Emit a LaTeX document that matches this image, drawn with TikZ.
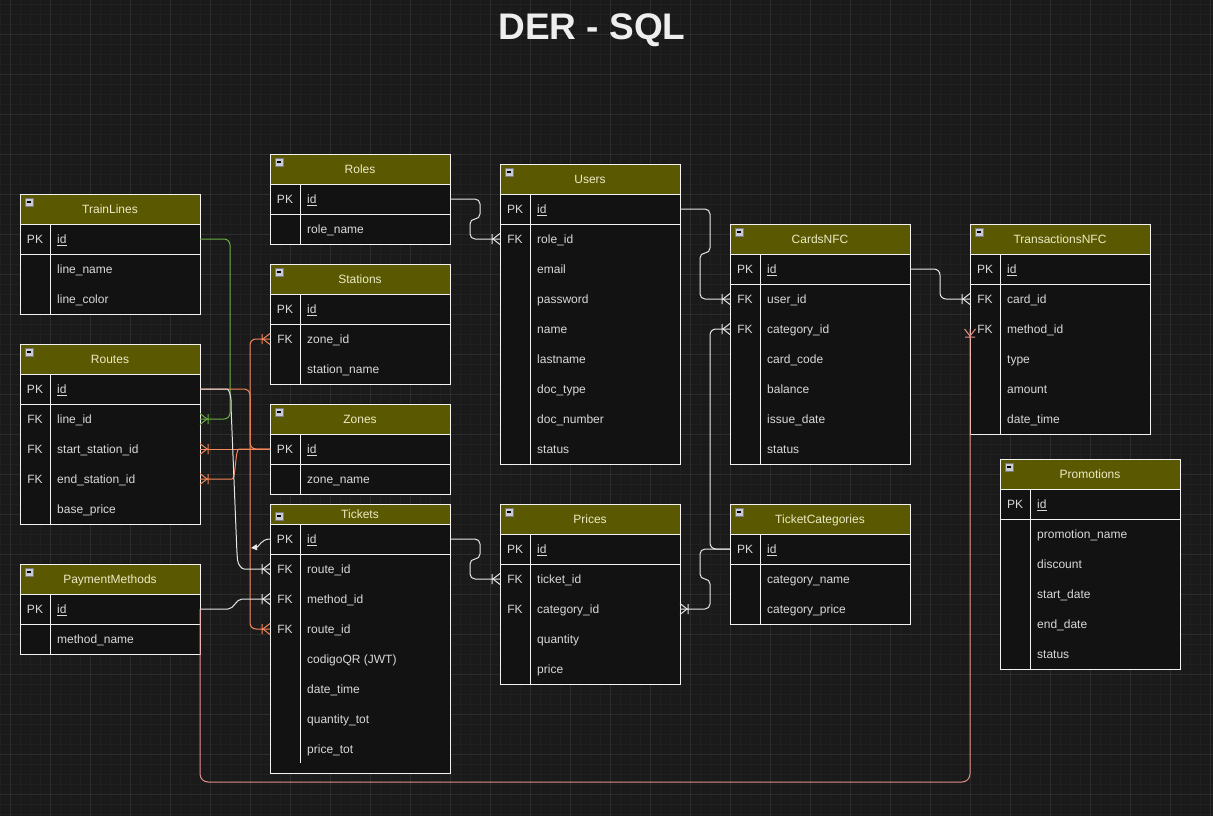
\documentclass[tikz,border=0pt]{standalone}
\usepackage{fontspec}
\setmainfont{Liberation Sans}
\usetikzlibrary{arrows.meta}
\definecolor{bgc}{HTML}{1A1A1A}
\definecolor{gridminor}{HTML}{202020}
\definecolor{gridmajor}{HTML}{2C2C2C}
\definecolor{tblbg}{HTML}{121212}
\definecolor{tblline}{HTML}{F2F2F2}
\definecolor{hdrcol}{HTML}{5A5800}
\definecolor{hdrtxt}{HTML}{EDEBC6}
\definecolor{rowtxt}{HTML}{D9D9D9}
\definecolor{titletxt}{HTML}{EEEEEE}
\definecolor{relwhite}{HTML}{E6E6E6}
\definecolor{relgreen}{HTML}{6AAE45}
\definecolor{relorange}{HTML}{F5875A}
\definecolor{relpink}{HTML}{E59089}
\definecolor{iconfill}{HTML}{C9CCD6}
\definecolor{iconline}{HTML}{7A7A8A}

\tikzset{
  tblnode/.style={fill=tblbg, draw=none, minimum width=180pt, inner sep=0pt, outer sep=0pt},
  tblborder/.style={draw=tblline, line width=1pt},
  hdrtext/.style={text=hdrtxt, font=\fontsize{12}{14}\selectfont, inner sep=0pt, anchor=base},
  keytext/.style={text=rowtxt, font=\fontsize{12}{14}\selectfont, inner sep=0pt, anchor=base},
  fieldtext/.style={text=rowtxt, font=\fontsize{12}{14}\selectfont, inner sep=0pt, anchor=base west},
  rowbox/.style={minimum width=180pt, minimum height=30pt, inner sep=0pt, outer sep=0pt},
  titletext/.style={text=titletxt, font=\fontsize{37}{44}\selectfont\bfseries, inner sep=0pt, anchor=base},
  rel/.style={line width=1pt, rounded corners=6pt},
  relw/.style={rel, draw=relwhite},
  relg/.style={rel, draw=relgreen},
  relo/.style={rel, draw=relorange},
  relp/.style={rel, draw=relpink, rounded corners=8pt},
  minorgrid/.style={draw=gridminor, line width=0.6pt},
  majorgrid/.style={draw=gridmajor, line width=0.8pt},
}

% #1 name, #2 x, #3 top, #4 bottom, #5 header height, #6 icon top offset, #7 title
\newcommand\ertable[7]{%
  \node[tblnode, minimum height={#4-#3}] (#1) at ({#2+90},{(#3+#4)/2}) {};
  \fill[hdrcol] ({#2},{#3}) rectangle ({#2+180},{#3+#5});
  \node[hdrtext] (#1-title) at ({#2+90},{#3+#5/2+4.3}) {#7};
  \draw[tblborder] ({#2},{#3+#5}) -- ({#2+180},{#3+#5});
  \draw[tblborder] (#1.north west) rectangle (#1.south east);
  \filldraw[fill=iconfill, draw=iconline, line width=0.7pt] ({#2+5},{#3+#6}) rectangle ({#2+13},{#3+#6+8});
  \draw[black, line width=1.1pt] ({#2+6.8},{#3+#6+4}) -- ({#2+11.2},{#3+#6+4});
}
% #1 x, #2 rows top, #3 pk separator y, #4 divider bottom
\newcommand\ercols[4]{%
  \draw[tblborder] ({#1},{#3}) -- ({#1+180},{#3});
  \draw[tblborder] ({#1+30},{#2}) -- ({#1+30},{#4});
}
% #1 name, #2 x, #3 y centre, #4 key, #5 field
\newcommand\errow[5]{%
  \node[rowbox] (#1) at ({#2+90},{#3}) {};
  \node[keytext] (#1-k) at ({#2+15},{#3+4.2}) {#4};
  \node[fieldtext] (#1-f) at ({#2+37},{#3+4.2}) {#5};
}
% #1 end point, #2 rotation, #3 colour
\newcommand\crowfoot[3]{%
  \begin{scope}[shift={#1}, rotate=#2]
    \draw[draw=#3, line width=1pt] (-8,-5) -- (-8,5) (0,-5.5) -- (-7,0) -- (0,5.5);
  \end{scope}}

\begin{document}
\begin{tikzpicture}[x=1pt,y=-1pt]
\useasboundingbox (0,0) rectangle (1213,816);
\fill[bgc] (0,0) rectangle (1213,816);
\foreach \gx in {0,10,...,1210} \draw[minorgrid] (\gx,0) -- (\gx,816);
\foreach \gy in {4,14,...,814} \draw[minorgrid] (0,\gy) -- (1213,\gy);
\foreach \gx in {10,50,...,1210} \draw[majorgrid] (\gx,0) -- (\gx,816);
\foreach \gy in {34,74,...,794} \draw[majorgrid] (0,\gy) -- (1213,\gy);

\node[titletext] (title) at (592,40) {DER - SQL};

% TrainLines
\ertable{TrainLines}{20}{194}{314}{30}{4}{TrainLines}
\ercols{20}{224}{254}{314}
\errow{TrainLines-id}{20}{239}{PK}{\underline{id}}
\errow{TrainLines-linename}{20}{269}{}{line\_name}
\errow{TrainLines-linecolor}{20}{299}{}{line\_color}

% Routes
\ertable{Routes}{20}{344}{524}{30}{4}{Routes}
\ercols{20}{374}{404}{524}
\errow{Routes-id}{20}{389}{PK}{\underline{id}}
\errow{Routes-lineid}{20}{419}{FK}{line\_id}
\errow{Routes-startstationid}{20}{449}{FK}{start\_station\_id}
\errow{Routes-endstationid}{20}{479}{FK}{end\_station\_id}
\errow{Routes-baseprice}{20}{509}{}{base\_price}

% PaymentMethods
\ertable{PaymentMethods}{20}{564}{654}{30}{4}{PaymentMethods}
\ercols{20}{594}{624}{654}
\errow{PaymentMethods-id}{20}{609}{PK}{\underline{id}}
\errow{PaymentMethods-methodname}{20}{639}{}{method\_name}

% Roles
\ertable{Roles}{270}{154}{244}{30}{4}{Roles}
\ercols{270}{184}{214}{244}
\errow{Roles-id}{270}{199}{PK}{\underline{id}}
\errow{Roles-rolename}{270}{229}{}{role\_name}

% Stations
\ertable{Stations}{270}{264}{384}{30}{4}{Stations}
\ercols{270}{294}{324}{384}
\errow{Stations-id}{270}{309}{PK}{\underline{id}}
\errow{Stations-zoneid}{270}{339}{FK}{zone\_id}
\errow{Stations-stationname}{270}{369}{}{station\_name}

% Zones
\ertable{Zones}{270}{404}{494}{30}{4}{Zones}
\ercols{270}{434}{464}{494}
\errow{Zones-id}{270}{449}{PK}{\underline{id}}
\errow{Zones-zonename}{270}{479}{}{zone\_name}

% Tickets
\ertable{Tickets}{270}{504}{773}{20}{8}{Tickets}
\ercols{270}{524}{554}{763}
\errow{Tickets-id}{270}{539}{PK}{\underline{id}}
\errow{Tickets-routeid}{270}{569}{FK}{route\_id}
\errow{Tickets-methodid}{270}{599}{FK}{method\_id}
\errow{Tickets-routeidb}{270}{629}{FK}{route\_id}
\errow{Tickets-codigoqr}{270}{659}{}{codigoQR (JWT)}
\errow{Tickets-datetime}{270}{689}{}{date\_time}
\errow{Tickets-quantitytot}{270}{719}{}{quantity\_tot}
\errow{Tickets-pricetot}{270}{749}{}{price\_tot}

% Users
\ertable{Users}{500}{164}{464}{30}{4}{Users}
\ercols{500}{194}{224}{464}
\errow{Users-id}{500}{209}{PK}{\underline{id}}
\errow{Users-roleid}{500}{239}{FK}{role\_id}
\errow{Users-email}{500}{269}{}{email}
\errow{Users-password}{500}{299}{}{password}
\errow{Users-name}{500}{329}{}{name}
\errow{Users-lastname}{500}{359}{}{lastname}
\errow{Users-doctype}{500}{389}{}{doc\_type}
\errow{Users-docnumber}{500}{419}{}{doc\_number}
\errow{Users-status}{500}{449}{}{status}

% Prices
\ertable{Prices}{500}{504}{684}{30}{4}{Prices}
\ercols{500}{534}{564}{684}
\errow{Prices-id}{500}{549}{PK}{\underline{id}}
\errow{Prices-ticketid}{500}{579}{FK}{ticket\_id}
\errow{Prices-categoryid}{500}{609}{FK}{category\_id}
\errow{Prices-quantity}{500}{639}{}{quantity}
\errow{Prices-price}{500}{669}{}{price}

% CardsNFC
\ertable{CardsNFC}{730}{224}{464}{30}{4}{CardsNFC}
\ercols{730}{254}{284}{464}
\errow{CardsNFC-id}{730}{269}{PK}{\underline{id}}
\errow{CardsNFC-userid}{730}{299}{FK}{user\_id}
\errow{CardsNFC-categoryid}{730}{329}{FK}{category\_id}
\errow{CardsNFC-cardcode}{730}{359}{}{card\_code}
\errow{CardsNFC-balance}{730}{389}{}{balance}
\errow{CardsNFC-issuedate}{730}{419}{}{issue\_date}
\errow{CardsNFC-status}{730}{449}{}{status}

% TicketCategories
\ertable{TicketCategories}{730}{504}{624}{30}{4}{TicketCategories}
\ercols{730}{534}{564}{624}
\errow{TicketCategories-id}{730}{549}{PK}{\underline{id}}
\errow{TicketCategories-categoryname}{730}{579}{}{category\_name}
\errow{TicketCategories-categoryprice}{730}{609}{}{category\_price}

% TransactionsNFC
\ertable{TransactionsNFC}{970}{224}{434}{30}{4}{TransactionsNFC}
\ercols{970}{254}{284}{434}
\errow{TransactionsNFC-id}{970}{269}{PK}{\underline{id}}
\errow{TransactionsNFC-cardid}{970}{299}{FK}{card\_id}
\errow{TransactionsNFC-methodid}{970}{329}{FK}{method\_id}
\errow{TransactionsNFC-type}{970}{359}{}{type}
\errow{TransactionsNFC-amount}{970}{389}{}{amount}
\errow{TransactionsNFC-datetime}{970}{419}{}{date\_time}

% Promotions
\ertable{Promotions}{1000}{459}{669}{30}{4}{Promotions}
\ercols{1000}{489}{519}{669}
\errow{Promotions-id}{1000}{504}{PK}{\underline{id}}
\errow{Promotions-promotionname}{1000}{534}{}{promotion\_name}
\errow{Promotions-discount}{1000}{564}{}{discount}
\errow{Promotions-startdate}{1000}{594}{}{start\_date}
\errow{Promotions-enddate}{1000}{624}{}{end\_date}
\errow{Promotions-status}{1000}{654}{}{status}

% ---------- connectors ----------
% pink: PaymentMethods -> TransactionsNFC.method_id
\draw[relp] (PaymentMethods-id.east) -- ++(0,173) -| (TransactionsNFC-methodid.west);
% green: TrainLines -> Routes.line_id
\draw[relg] (TrainLines-id.east) -- ++(30,0) |- (Routes-lineid.east);
% orange
\draw[relo] (Routes-id.east) -- ++(50,0) |- (Tickets-routeidb.west);
\draw[relo] (Zones-id.west) -- ++(-20,0) |- (Stations-zoneid.west);
\draw[relo] (Zones-id.west) -- (Routes-startstationid.east);
\draw[relo] (Zones-id.west) -- (245,449) .. controls (235,449) and (236,479) .. (226,479) -- (Routes-endstationid.east);
% white
\draw[relw] (Routes-id.east) -- (221,389) .. controls (229,389) and (231,396) .. (231,406) -- (237,554) .. controls (238,565) and (242,569) .. (250,569) -- (Tickets-routeid.west);
\draw[relw] (PaymentMethods-id.east) -- (222,609) .. controls (234,609) and (236,599) .. (248,599) -- (Tickets-methodid.west);
\coordinate (stub) at (251,548);
\draw[line width=1pt, draw=relwhite, -{Triangle[length=6pt,width=6pt]}] (Tickets-id.west) .. controls (261,539) and (259,547) .. (stub);
\draw[relw, rounded corners=5pt] (Roles-id.east) -- ++(30,0) -- ++(0,20) -- ++(-10,0) |- (Users-roleid.west);
\draw[relw, rounded corners=5pt] (Tickets-id.east) -- ++(30,0) -- ++(0,20) -- ++(-10,0) |- (Prices-ticketid.west);
\draw[relw, rounded corners=5pt] (Users-id.east) -- ++(30,0) -- ++(0,44) -- ++(-10,0) |- (CardsNFC-userid.west);
\draw[relw] (TicketCategories-id.west) -- ++(-20,0) |- (CardsNFC-categoryid.west);
\draw[relw, rounded corners=5pt] (TicketCategories-id.west) -- ++(-30,0) -- ++(0,30) -- ++(10,0) |- (Prices-categoryid.east);
\draw[relw] (CardsNFC-id.east) -- ++(30,0) |- (TransactionsNFC-cardid.west);

% ---------- crow's feet ----------
\crowfoot{(Routes-lineid.east)}{180}{relgreen}
\crowfoot{(Routes-startstationid.east)}{180}{relorange}
\crowfoot{(Routes-endstationid.east)}{180}{relorange}
\crowfoot{(Stations-zoneid.west)}{0}{relorange}
\crowfoot{(Tickets-routeid.west)}{0}{relwhite}
\crowfoot{(Tickets-methodid.west)}{0}{relwhite}
\crowfoot{(Tickets-routeidb.west)}{0}{relorange}
\crowfoot{(Users-roleid.west)}{0}{relwhite}
\crowfoot{(Prices-ticketid.west)}{0}{relwhite}
\crowfoot{(Prices-categoryid.east)}{180}{relwhite}
\crowfoot{(CardsNFC-userid.west)}{0}{relwhite}
\crowfoot{(CardsNFC-categoryid.west)}{0}{relwhite}
\crowfoot{(TransactionsNFC-cardid.west)}{0}{relwhite}
\crowfoot{(TransactionsNFC-methodid.west)}{90}{relpink}
\end{tikzpicture}
\end{document}
